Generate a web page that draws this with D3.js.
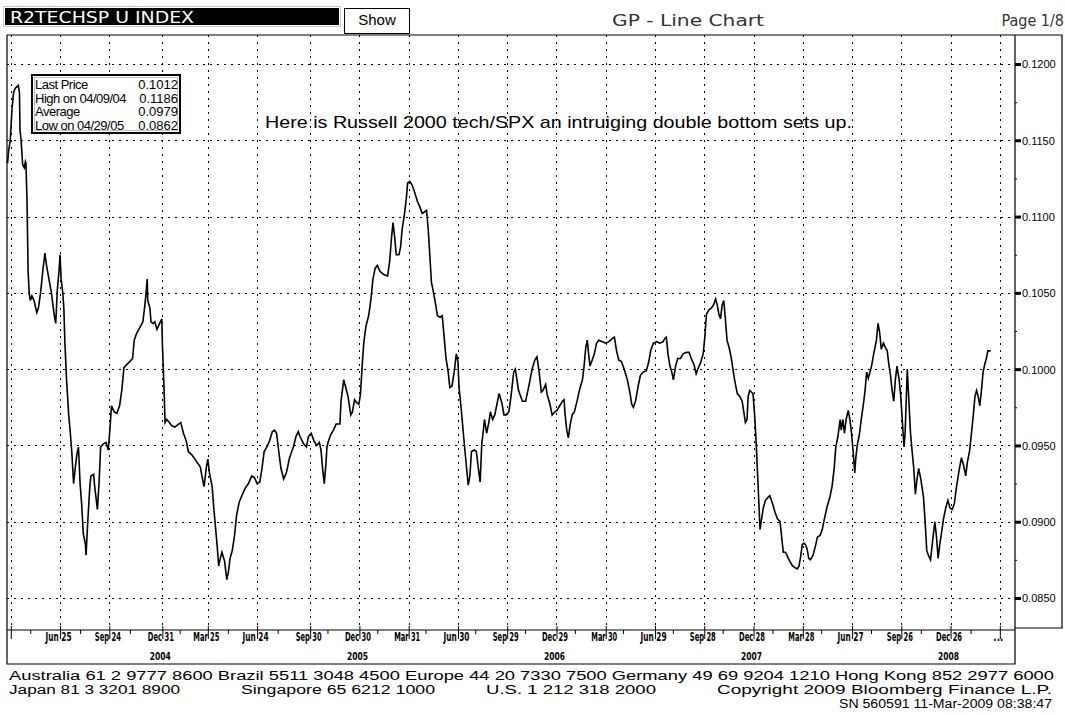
<!DOCTYPE html>
<html>
<head>
<meta charset="utf-8">
<script src="https://cdn.jsdelivr.net/npm/d3@7"></script>
<style>
  body { margin: 0; background: #fff; }
  svg { display: block; }
</style>
</head>
<body>
<svg id="chart" width="1065" height="715"></svg>
<script>
// ---- data (R2TECHSP U INDEX) ----
var d2004 = ["03-20","03-22","03-25","03-28","03-31","04-03","04-06","04-09","04-11","04-12","04-14","04-16","04-17","04-20","04-22","04-23","04-25","04-26","04-27","04-29",
  "05-01","05-04","05-08","05-13","05-16","05-20","05-24","05-28","05-31","06-05","06-09","06-14","06-17","06-20","06-23","06-25","06-27","06-30",
  "07-02","07-04","07-07","07-11","07-14","07-17","07-20","07-23","07-26","07-29","08-01","08-04","08-07","08-11","08-12","08-15","08-19","08-21","08-26","08-28",
  "09-02","09-05","09-08","09-13","09-18","09-22","09-25","09-28","10-03","10-08","10-13","10-17","10-21","10-26","11-01","11-06","11-09","11-14","11-19","11-25","11-28",
  "12-01","12-03","12-04","12-08","12-10","12-14","12-17","12-21","12-26","12-30","12-31"];
var v2004 = [0.1135,0.1143,0.1150,0.1169,0.1181,0.1184,0.1185,0.1186,0.1181,0.1157,0.1150,0.1139,0.1134,0.1132,0.1136,0.1135,0.1110,0.1087,0.1064,0.1050,
  0.1045,0.1048,0.1045,0.1037,0.1040,0.1050,0.1064,0.1076,0.1068,0.1058,0.1050,0.1036,0.1030,0.1052,0.1064,0.1075,0.1059,0.1050,
  0.1040,0.1017,0.0993,0.0970,0.0958,0.0944,0.0925,0.0935,0.0944,0.0949,0.0925,0.0911,0.0892,0.0885,0.0878,0.0899,0.0923,0.0930,0.0931,0.0923,
  0.0908,0.0925,0.0949,0.0951,0.0952,0.0947,0.0960,0.0976,0.0972,0.0971,0.0976,0.0986,0.1001,0.1003,0.1005,0.1007,0.1019,0.1024,0.1027,0.1031,0.1040,
  0.1050,0.1059,0.1045,0.1040,0.1031,0.1030,0.1031,0.1026,0.1030,0.1033,0.1017];

var d2005 = ["01-03","01-05","01-08","01-13","01-17","01-23","01-30","02-03","02-08","02-13","02-17","02-23","03-05","03-11","03-14","03-18","03-22","03-25","03-28",
  "04-02","04-05","04-08","04-11","04-14","04-17","04-20","04-25","04-29","05-02","05-05","05-09","05-13","05-17","05-22","05-28",
  "06-02","06-08","06-14","06-19","06-24","06-29","07-03","07-07","07-12","07-17","07-22","07-26","07-30","08-03","08-07","08-12","08-17","08-23","08-30",
  "09-04","09-08","09-11","09-18","09-23","09-27","10-02","10-07","10-12","10-17","10-20","10-23","10-26","10-29","10-31",
  "11-03","11-07","11-12","11-17","11-24","11-26","12-01","12-04","12-09","12-14","12-17","12-21","12-25","12-29"];
var v2005 = [0.0988,0.0965,0.0967,0.0965,0.0963,0.0962,0.0964,0.0965,0.0958,0.0953,0.0946,0.0944,0.0939,0.0936,0.0930,0.0923,0.0935,0.0941,0.0932,
  0.0923,0.0909,0.0897,0.0885,0.0871,0.0876,0.0880,0.0874,0.0862,0.0867,0.0876,0.0881,0.0890,0.0904,0.0913,0.0918,
  0.0922,0.0925,0.0930,0.0929,0.0925,0.0926,0.0935,0.0946,0.0949,0.0953,0.0959,0.0960,0.0958,0.0946,0.0935,0.0928,0.0932,0.0942,0.0949,
  0.0956,0.0959,0.0956,0.0951,0.0949,0.0956,0.0958,0.0953,0.0950,0.0952,0.0947,0.0935,0.0925,0.0937,0.0949,
  0.0953,0.0957,0.0960,0.0964,0.0964,0.0979,0.0993,0.0989,0.0982,0.0970,0.0972,0.0980,0.0978,0.0977];

var d2006 = ["01-01","01-04","01-07","01-11","01-16","01-20","01-24","01-28","02-01","02-06","02-13","02-20","02-24","02-27","03-02","03-05","03-08","03-13","03-16","03-19","03-23","03-27","03-29",
  "04-02","04-06","04-11","04-16","04-21","04-25","04-29","05-03","05-06","05-09","05-12","05-16","05-20","05-23","05-28",
  "06-01","06-05","06-08","06-12","06-15","06-19","06-23","06-27","06-30","07-02","07-06","07-10","07-13","07-16","07-19","07-22","07-25","07-30",
  "08-03","08-06","08-10","08-13","08-16","08-18","08-22","08-26","08-29","09-02","09-06","09-10","09-14","09-19","09-23","09-27",
  "10-02","10-06","10-11","10-14","10-17","10-20","10-27","11-02","11-08","11-14","11-19","11-23","11-27","12-01","12-04","12-09","12-12","12-17","12-21","12-26","12-30"];
var v2006 = [0.0984,0.1002,0.1017,0.1028,0.1035,0.1045,0.1059,0.1066,0.1068,0.1064,0.1062,0.1061,0.1071,0.1085,0.1096,0.1087,0.1075,0.1075,0.1080,0.1092,0.1101,0.1113,0.1122,
  0.1123,0.1121,0.1116,0.1110,0.1106,0.1102,0.1103,0.1104,0.1092,0.1075,0.1057,0.1050,0.1042,0.1035,0.1034,
  0.1035,0.1019,0.1007,0.0998,0.0988,0.0989,0.0998,0.1010,0.1005,0.0988,0.0974,0.0958,0.0946,0.0935,0.0924,0.0930,0.0946,0.0947,
  0.0946,0.0937,0.0926,0.0951,0.0960,0.0967,0.0958,0.0965,0.0972,0.0967,0.0970,0.0977,0.0984,0.0978,0.0970,0.0970,
  0.0972,0.0982,0.0998,0.1000,0.0993,0.0986,0.0979,0.0979,0.0989,0.1000,0.1006,0.1008,0.0998,0.0985,0.0986,0.0990,0.0983,0.0977,0.0970,0.0972,0.0973];

var d2007 = ["01-04","01-09","01-12","01-14","01-17","01-20","01-23","01-27","01-31","02-05","02-10","02-15","02-18","02-21","02-24","02-26",
  "03-01","03-05","03-09","03-13","03-17","03-24","03-30","04-05","04-11","04-15","04-19","04-23","04-28","05-03","05-09","05-14","05-17","05-20","05-24","05-29",
  "06-02","06-07","06-13","06-17","06-21","06-26","07-02","07-08","07-14","07-17","07-20","07-23","07-26","07-30","08-02","08-06","08-10","08-15","08-20","08-26","08-31",
  "09-04","09-09","09-13","09-16","09-21","09-26","09-29","10-02","10-07","10-11","10-15","10-19","10-22","10-25","10-28","10-31",
  "11-03","11-06","11-09","11-13","11-17","11-20","11-23","11-28","12-03","12-07","12-10","12-13","12-16","12-18","12-21","12-24","12-27","12-30"];
var v2007 = [0.0976,0.0979,0.0980,0.0970,0.0960,0.0955,0.0963,0.0970,0.0972,0.0979,0.0987,0.0993,0.1002,0.1014,0.1019,0.1011,
  0.1002,0.1006,0.1010,0.1017,0.1019,0.1018,0.1017,0.1018,0.1020,0.1021,0.1012,0.1006,0.1005,0.1000,0.0993,0.0984,0.0977,0.0975,0.0979,0.0989,
  0.0996,0.0998,0.0999,0.1004,0.1012,0.1017,0.1018,0.1017,0.1018,0.1020,0.1021,0.1010,0.1003,0.0998,0.0993,0.1002,0.1007,0.1007,0.1010,0.1011,0.1011,
  0.1007,0.1003,0.0997,0.1000,0.1004,0.1010,0.1021,0.1036,0.1039,0.1040,0.1042,0.1046,0.1042,0.1036,0.1033,0.1042,
  0.1045,0.1033,0.1019,0.1014,0.1007,0.1000,0.0993,0.0984,0.0982,0.0979,0.0972,0.0965,0.0967,0.0982,0.0986,0.0985,0.0984,0.0970];

var d2008 = ["01-02","01-04","01-07","01-09","01-12","01-15","01-19","01-24","01-27","02-01","02-05","02-10","02-15","02-18","02-21","02-25","02-29",
  "03-04","03-09","03-13","03-18","03-21","03-24","03-27","03-30","04-02","04-05","04-08","04-11","04-16","04-21","04-24","04-29",
  "05-03","05-07","05-12","05-17","05-21","05-25","05-28","06-01","06-05","06-07","06-10","06-13","06-16","06-20","06-23","06-26","06-29",
  "07-02","07-04","07-07","07-10","07-14","07-18","07-21","07-24","07-27","07-30","08-02","08-06","08-11","08-14","08-17","08-20","08-24","08-28","08-31",
  "09-03","09-06","09-09","09-12","09-15","09-18","09-22","09-25","09-28","10-01","10-03","10-07","10-10","10-13","10-16","10-19","10-22","10-25","10-28",
  "11-01","11-06","11-09","11-12","11-15","11-19","11-23","11-27","11-30","12-03","12-06","12-09","12-13","12-17","12-21","12-25","12-29"];
var v2008 = [0.0951,0.0935,0.0911,0.0895,0.0902,0.0909,0.0914,0.0916,0.0917,0.0912,0.0907,0.0902,0.0900,0.0890,0.0880,0.0880,0.0877,
  0.0874,0.0871,0.0870,0.0869,0.0871,0.0877,0.0885,0.0886,0.0885,0.0882,0.0876,0.0875,0.0878,0.0885,0.0890,0.0891,
  0.0895,0.0902,0.0910,0.0916,0.0923,0.0935,0.0949,0.0956,0.0967,0.0960,0.0967,0.0958,0.0967,0.0973,0.0967,0.0958,0.0946,
  0.0932,0.0942,0.0951,0.0956,0.0967,0.0977,0.0986,0.0998,0.0994,0.0998,0.1002,0.1010,0.1019,0.1030,0.1024,0.1013,0.1017,0.1014,0.1012,
  0.1003,0.0996,0.0986,0.0979,0.0993,0.1002,0.0993,0.0982,0.0965,0.0949,0.0958,0.1000,0.0979,0.0958,0.0946,0.0935,0.0918,0.0928,0.0935,
  0.0928,0.0916,0.0900,0.0881,0.0878,0.0875,0.0888,0.0900,0.0890,0.0876,0.0885,0.0892,0.0902,0.0909,0.0914,0.0909,0.0908];

var d2009 = ["01-02","01-06","01-10","01-15","01-19","01-23","01-26","01-30","02-02","02-06","02-09","02-12","02-15","02-18","02-21","02-24","02-27","03-02","03-05","03-10"];
var v2009 = [0.0912,0.0923,0.0932,0.0942,0.0937,0.0930,0.0939,0.0946,0.0956,0.0970,0.0982,0.0986,0.0982,0.0976,0.0986,0.0998,0.1003,0.1007,0.1012,0.1012];

var yTicks = [0.0850, 0.0900, 0.0950, 0.1000, 0.1050, 0.1100, 0.1150, 0.1200];
var yMinor = [0.0875, 0.0925, 0.0975, 0.1025, 0.1075, 0.1125, 0.1175];
var xTickDates = ["2004-03-26","2004-06-25","2004-09-24","2004-12-31","2005-03-25","2005-06-24","2005-09-30","2005-12-30","2006-03-31","2006-06-30",
  "2006-09-29","2006-12-29","2007-03-30","2007-06-29","2007-09-28","2007-12-28","2008-03-28","2008-06-27","2008-09-26","2008-12-26","2009-03-27"];
var xTickLabels = ["","Jun 25","Sep 24","Dec 31","Mar 25","Jun 24","Sep 30","Dec 30","Mar 31","Jun 30",
  "Sep 29","Dec 29","Mar 30","Jun 29","Sep 28","Dec 28","Mar 28","Jun 27","Sep 26","Dec 26","..."];
var yearDates = ["2004-12-31","2005-12-30","2006-12-29","2007-12-28","2008-12-26"];
var yearLabels = ["2004","2005","2006","2007","2008"];
var statNames = ["Last Price","High on 04/09/04","Average","Low on 04/29/05"];
var statValues = ["0.1012","0.1186","0.0979","0.0862"];

var parse = d3.timeParse("%Y-%m-%d");
var years = [[2004, d2004, v2004],[2005, d2005, v2005],[2006, d2006, v2006],[2007, d2007, v2007],[2008, d2008, v2008],[2009, d2009, v2009]];
var series = [];
years.forEach(function (yr) {
  yr[1].forEach(function (md, i) {
    series.push({ date: parse(yr[0] + "-" + md), v: yr[2][i] });
  });
});

var svg = d3.select("#chart");
var L = 7, R = 1015, T = 35, B = 630;

var x = d3.scaleTime()
  .domain([parse("2004-03-19"), parse("2009-04-24")])
  .range([L, R]);
var y = d3.scaleLinear()
  .domain([0.0850, 0.1200])
  .range([598, 64]);

svg.append("rect").attr("width", 1065).attr("height", 715).attr("fill", "#fff");

// header
svg.append("rect").attr("x", 3.5).attr("y", 6.5).attr("width", 337).attr("height", 20)
  .attr("fill", "none").attr("stroke", "#888").attr("stroke-dasharray", "1,1");
svg.append("rect").attr("x", 5).attr("y", 8).attr("width", 334).attr("height", 17).attr("fill", "#000");
svg.append("text").attr("x", 10).attr("y", 23).attr("fill", "#fff")
  .attr("font-family", "'DejaVu Sans Condensed','DejaVu Sans',sans-serif").attr("font-size", 16)
  .attr("textLength", 184).attr("lengthAdjust", "spacingAndGlyphs")
  .text("R2TECHSP U INDEX");
svg.append("rect").attr("x", 344.5).attr("y", 8.5).attr("width", 65).attr("height", 25)
  .attr("fill", "#fff").attr("stroke", "#000");
svg.append("text").attr("x", 377).attr("y", 25).attr("text-anchor", "middle")
  .attr("font-family", "'Liberation Sans',Arial,sans-serif").attr("font-size", 15).text("Show");
svg.append("text").attr("x", 612).attr("y", 26).attr("fill", "#333")
  .attr("font-family", "'DejaVu Sans Condensed','DejaVu Sans',sans-serif").attr("font-size", 16)
  .attr("textLength", 152).attr("lengthAdjust", "spacingAndGlyphs")
  .text("GP - Line Chart");
svg.append("text").attr("x", 1064).attr("y", 26).attr("text-anchor", "end").attr("fill", "#333")
  .attr("font-family", "'DejaVu Sans Condensed','DejaVu Sans',sans-serif").attr("font-size", 16)
  .text("Page 1/8");

// grid
var grid = svg.append("g").attr("stroke", "#000").attr("stroke-width", 1).attr("stroke-dasharray", "2,5");
grid.selectAll(".hg").data(yTicks).enter().append("line")
  .attr("x1", L).attr("x2", R)
  .attr("y1", function (d) { return Math.round(y(d)) + 0.5; })
  .attr("y2", function (d) { return Math.round(y(d)) + 0.5; });
grid.selectAll(".vg").data(xTickDates).enter().append("line")
  .attr("x1", function (d) { return Math.round(x(parse(d))) + 0.5; })
  .attr("x2", function (d) { return Math.round(x(parse(d))) + 0.5; })
  .attr("y1", T).attr("y2", B);

// price line
var line = d3.line()
  .x(function (d) { return x(d.date); })
  .y(function (d) { return y(d.v); });
svg.append("path").datum(series)
  .attr("d", line)
  .attr("fill", "none")
  .attr("stroke", "#000")
  .attr("stroke-width", 1.6)
  .attr("stroke-linejoin", "miter");

// frame
var frame = svg.append("g").attr("stroke", "#000").attr("stroke-width", 1.2).attr("fill", "none");
frame.append("path").attr("d", "M" + L + "," + T + "H1062V628H" + R);
frame.append("path").attr("d", "M" + L + "," + T + "V664H" + R + "V" + T);
frame.append("path").attr("d", "M" + L + "," + B + "H" + R);

// right axis
var yAxis = d3.axisRight(y).tickValues(yTicks).tickSize(6).tickPadding(1)
  .tickFormat(d3.format(".4f"));
var ya = svg.append("g").attr("transform", "translate(" + R + ",0)").call(yAxis);
ya.select(".domain").remove();
ya.selectAll(".tick line").attr("stroke", "#000").attr("stroke-width", 3);
ya.selectAll(".tick text").attr("font-family", "'Liberation Sans',Arial,sans-serif")
  .attr("font-size", 11).attr("fill", "#000").attr("dy", "0.36em");
var yMin = d3.axisRight(y).tickValues(yMinor).tickSize(2).tickFormat("");
var ym = svg.append("g").attr("transform", "translate(" + R + ",0)").call(yMin);
ym.select(".domain").remove();

// bottom axis
var xAxis = d3.axisBottom(x).tickValues(xTickDates.map(parse)).tickSize(9).tickPadding(2)
  .tickFormat(function (d, i) { return xTickLabels[i]; });
var xa = svg.append("g").attr("transform", "translate(0," + B + ")").call(xAxis);
xa.select(".domain").remove();
xa.selectAll(".tick line").attr("y1", -4).attr("stroke", "#000");
xa.selectAll(".tick text")
  .attr("font-family", "'DejaVu Sans Condensed','Liberation Sans Narrow',sans-serif")
  .attr("font-weight", "bold").attr("font-size", 12).attr("fill", "#000")
  .attr("x", -2).attr("y", 2).attr("dy", "0.72em")
  .attr("textLength", function (d, i) { return xTickLabels[i] === "..." ? 10 : 26; })
  .attr("lengthAdjust", "spacingAndGlyphs");

var minorDates = d3.timeMonths(x.domain()[0], x.domain()[1]).filter(function (d) { return d.getMonth() % 3 === 1; });
var xm = svg.append("g").attr("transform", "translate(0," + B + ")")
  .call(d3.axisBottom(x).tickValues(minorDates).tickSize(4).tickFormat(""));
xm.select(".domain").remove();

svg.append("g").selectAll("text").data(yearDates).enter().append("text")
  .attr("x", function (d) { return x(parse(d)) - 2; })
  .attr("y", 660)
  .attr("text-anchor", "middle")
  .attr("font-family", "'DejaVu Sans Condensed','Liberation Sans Narrow',sans-serif")
  .attr("font-weight", "bold").attr("font-size", 10)
  .attr("textLength", 21).attr("lengthAdjust", "spacingAndGlyphs")
  .text(function (d, i) { return yearLabels[i]; });

// stats box
svg.append("rect").attr("x", 32).attr("y", 75).attr("width", 148).attr("height", 58)
  .attr("fill", "#fff").attr("stroke", "#000").attr("stroke-width", 2);
svg.append("rect").attr("x", 34.5).attr("y", 77.5).attr("width", 143).attr("height", 53)
  .attr("fill", "none").attr("stroke", "#999").attr("stroke-width", 0.6);
var stats = svg.append("g").attr("font-family", "'Liberation Sans',Arial,sans-serif").attr("font-size", 13);
stats.selectAll(".sn").data(statNames).enter().append("text")
  .attr("x", 35).attr("y", function (d, i) { return 89 + i * 13.5; })
  .attr("letter-spacing", -0.5)
  .text(function (d) { return d; });
stats.selectAll(".sv").data(statValues).enter().append("text")
  .attr("x", 178).attr("y", function (d, i) { return 89 + i * 13.5; })
  .attr("text-anchor", "end")
  .text(function (d) { return d; });

// annotation
svg.append("text").attr("x", 265).attr("y", 128)
  .attr("font-family", "'Liberation Sans',Arial,sans-serif").attr("font-size", 17)
  .attr("textLength", 587).attr("lengthAdjust", "spacingAndGlyphs")
  .text("Here is Russell 2000 tech/SPX an intruiging double bottom sets up.");

// footer
var foot = svg.append("g").attr("font-family", "'Liberation Sans',Arial,sans-serif").attr("font-size", 12.5);
function ft(txt, x0, x1, yy) {
  foot.append("text").attr("x", x0).attr("y", yy)
    .attr("textLength", x1 - x0).attr("lengthAdjust", "spacingAndGlyphs").text(txt);
}
ft("Australia 61 2 9777 8600 Brazil 5511 3048 4500 Europe 44 20 7330 7500 Germany 49 69 9204 1210 Hong Kong 852 2977 6000", 9, 1054, 680);
ft("Japan 81 3 3201 8900", 9, 180, 694);
ft("Singapore 65 6212 1000", 241, 435, 694);
ft("U.S. 1 212 318 2000", 486, 656, 694);
ft("Copyright 2009 Bloomberg Finance L.P.", 717, 1052, 694);
ft("SN 560591 11-Mar-2009 08:38:47", 839, 1052, 708);
</script>
</body>
</html>
